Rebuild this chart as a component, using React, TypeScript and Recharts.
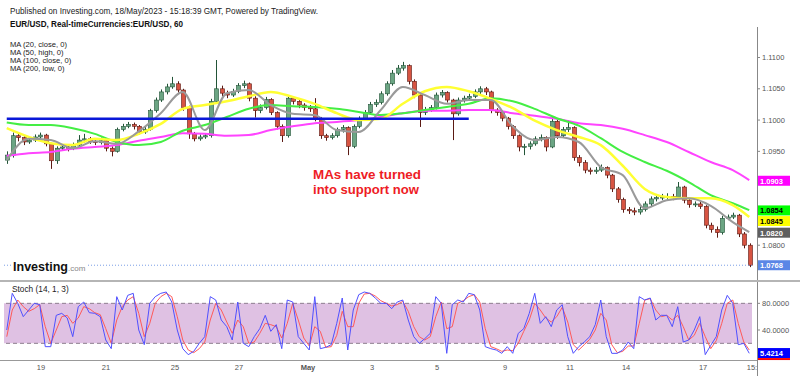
import React from 'react';
import { ComposedChart, Bar, Line, XAxis, YAxis, ReferenceLine, ReferenceArea } from 'recharts';

const firstOpen = 1.0936;
const closes = [
  1.0944, 1.0975, 1.0972, 1.0965, 1.0968, 1.0973, 1.0976, 1.0962, 1.0935, 1.0955,
  1.0957, 1.0955, 1.096, 1.0968, 1.097, 1.0966, 1.0964, 1.0967, 1.0955, 1.095,
  1.0985, 1.099, 1.0993, 1.099, 1.0981, 1.0985, 1.1015, 1.1032, 1.1045, 1.1053,
  1.1058, 1.1048, 1.102, 1.0978, 1.097, 1.0973, 1.0975, 1.103, 1.105, 1.1043,
  1.104, 1.1046, 1.1055, 1.1058, 1.1035, 1.1015, 1.102, 1.1033, 1.1012, 1.099,
  1.0975, 1.1035, 1.103, 1.1024, 1.102, 1.1018, 1.1002, 1.0975, 1.0972, 1.0975,
  1.0985, 1.0988, 1.0958, 1.099, 1.1002, 1.1012, 1.1025, 1.1028, 1.1042, 1.1058,
  1.1075, 1.1083, 1.1087, 1.1062, 1.104, 1.1012, 1.1016, 1.102, 1.104, 1.1044,
  1.1032, 1.101, 1.1032, 1.1035, 1.1038, 1.1045, 1.105, 1.1045, 1.1016, 1.1012,
  1.1003, 1.099, 1.0975, 1.0957, 1.0958, 1.0962, 1.097, 1.0972, 1.0957, 1.0998,
  1.0975, 1.0985, 1.0988, 1.094, 1.0932, 1.092, 1.0918, 1.092, 1.0924, 1.0912,
  1.089, 1.0873, 1.0857, 1.0855, 1.0853, 1.0857, 1.0866, 1.0874, 1.0876, 1.0877,
  1.0878, 1.0877, 1.0893, 1.0872, 1.0865, 1.0866, 1.0862, 1.0832, 1.0825, 1.082,
  1.0843, 1.0845, 1.0848, 1.0818, 1.08, 1.0768,
];
const highs = [
  1.095, 1.098, 1.0979, 1.0974, 1.0972, 1.0977, 1.098, 1.0978, 1.0964, 1.0958,
  1.0961, 1.096, 1.0964, 1.0976, 1.0978, 1.0973, 1.097, 1.0972, 1.0969, 1.0958,
  1.0988, 1.0994, 1.0997, 1.0996, 1.0992, 1.099, 1.1018, 1.1036, 1.1049, 1.1058,
  1.1069, 1.1062, 1.105, 1.1023, 1.0981, 1.0977, 1.0979, 1.1034, 1.1096, 1.1055,
  1.1047, 1.105, 1.1059, 1.1063, 1.106, 1.1038, 1.1025, 1.1037, 1.1035, 1.1014,
  1.0993, 1.104, 1.1038, 1.1033, 1.1027, 1.1024, 1.1035, 1.1005, 1.0978, 1.0979,
  1.0988, 1.0992, 1.099, 1.0993, 1.1006, 1.1016, 1.1029, 1.1033, 1.1046, 1.1062,
  1.108, 1.1088, 1.1093, 1.1089, 1.1065, 1.1043, 1.1021, 1.1024, 1.1044, 1.1048,
  1.1046, 1.1034, 1.1036, 1.1039, 1.1042, 1.1049, 1.1054, 1.1053, 1.1047, 1.1019,
  1.1014, 1.1005, 1.0992, 1.0977, 1.0962, 1.0966, 1.0974, 1.0977, 1.0974, 1.1005,
  1.1, 1.0989, 1.1, 1.099, 1.0944, 1.0936, 1.0924, 1.0925, 1.0929, 1.0926,
  1.0914, 1.0893, 1.0876, 1.0861, 1.086, 1.0862, 1.087, 1.0878, 1.0881, 1.0882,
  1.0883, 1.0882, 1.0901, 1.0895, 1.0875, 1.087, 1.0869, 1.0864, 1.0836, 1.083,
  1.0847, 1.0849, 1.0852, 1.085, 1.0821, 1.0803,
];
const lows = [
  1.093, 1.094, 1.0966, 1.096, 1.0962, 1.0965, 1.097, 1.0958, 1.0922, 1.093,
  1.0951, 1.095, 1.0952, 1.0957, 1.0964, 1.0962, 1.096, 1.0961, 1.095, 1.0942,
  1.0948, 1.0982, 1.0987, 1.0985, 1.0977, 1.0978, 1.0983, 1.1012, 1.1029, 1.1041,
  1.105, 1.1044, 1.1015, 1.097, 1.0966, 1.0967, 1.097, 1.0972, 1.1027, 1.1038,
  1.1035, 1.1037, 1.1043, 1.1051, 1.103, 1.1004, 1.1011, 1.1017, 1.1008, 1.0985,
  1.0965, 1.0972, 1.1025, 1.1019, 1.1015, 1.1013, 1.0998, 1.097, 1.0967, 1.0969,
  1.0972, 1.098, 1.0944, 1.0955, 1.0987, 1.0999, 1.1009, 1.1021, 1.1025, 1.1039,
  1.1055, 1.1072, 1.1079, 1.1057, 1.1035, 1.0989, 1.1008, 1.1013, 1.1017, 1.1036,
  1.1028, 1.0968, 1.1007, 1.1028, 1.1031, 1.1035, 1.1041, 1.104, 1.1011, 1.1007,
  1.0998, 1.0985, 1.097, 1.095, 1.0944, 1.0953, 1.0959, 1.0966, 1.095, 1.0955,
  1.097, 1.0972, 1.0981, 1.0935, 1.0926, 1.0915, 1.0913, 1.0914, 1.0917, 1.0907,
  1.0885, 1.0868, 1.0852, 1.085, 1.0848, 1.0849, 1.0854, 1.0862, 1.087, 1.0872,
  1.0873, 1.0872, 1.0874, 1.0867, 1.086, 1.0861, 1.0858, 1.0827, 1.082, 1.0812,
  1.0817, 1.084, 1.0842, 1.0813, 1.0795, 1.0765,
];

// moving averages, sampled at these candle indices
const maIdx = [
  0, 4, 8, 12, 16, 20, 24, 28, 32, 36, 40, 44, 48, 52, 56, 60, 64, 68,
  72, 76, 80, 84, 88, 92, 96, 100, 104, 108, 112, 116, 120, 124, 128, 132, 135,
];
const ma20 = [
  1.0936, 1.097, 1.0968, 1.0955, 1.0966, 1.0962, 1.0982, 1.1011, 1.1045, 1.0984,
  1.1043, 1.1048, 1.1024, 1.101, 1.1008, 1.0984, 1.0981, 1.1016, 1.1053, 1.104,
  1.1026, 1.1032, 1.1032, 1.099, 1.0968, 1.0973, 1.0965, 1.0925, 1.0912, 1.0859,
  1.0872, 1.0875, 1.0863, 1.0837, 1.0821,
];
const ma50 = [
  1.0987, 1.0973, 1.0963, 1.096, 1.097, 1.0968, 1.0978, 1.0994, 1.1018, 1.1024,
  1.103, 1.1038, 1.1045, 1.1037, 1.1026, 1.1011, 1.1, 1.1002, 1.1026, 1.1046,
  1.1053, 1.1046, 1.1034, 1.1019, 1.0999, 1.0984, 1.0973, 1.096, 1.0927, 1.089,
  1.0877, 1.0875, 1.0875, 1.0864, 1.0845,
];
const ma100 = [
  1.0996, 1.0992, 1.0992, 1.0987, 1.0978, 1.0965, 1.096, 1.0965, 1.0983, 1.0992,
  1.1005, 1.1018, 1.1024, 1.1022, 1.1021, 1.1018, 1.1013, 1.1008, 1.1011, 1.1016,
  1.1021, 1.1026, 1.1035, 1.103, 1.1018, 1.1003, 1.0991, 1.0971, 1.0949, 1.0933,
  1.0919, 1.0901, 1.088, 1.0867, 1.0856,
];
const ma200 = [
  1.0943, 1.0947, 1.0949, 1.0954, 1.0957, 1.096, 1.0967, 1.0973, 1.0979, 1.0978,
  1.0975, 1.0976, 1.0984, 1.099, 1.0995, 1.0997, 1.1, 1.1005, 1.1011, 1.1015,
  1.1015, 1.1016, 1.1016, 1.1011, 1.1007, 1.1002, 1.0995, 1.0992, 1.0986, 1.0976,
  1.0965, 1.0949, 1.0933, 1.092, 1.0904,
];

// Stoch (14, 1, 3)
const stochK = [
  40, 95, 80, 60, 70, 80, 78, 15, 15, 62,
  65, 58, 30, 75, 82, 66, 65, 60, 25, 12,
  90, 70, 92, 95, 40, 18, 80, 90, 95, 97,
  82, 40, 12, 3, 8, 20, 30, 90, 85, 55,
  45, 25, 82, 20, 15, 30, 42, 62, 38, 48,
  12, 85, 82, 30, 20, 10, 90, 12, 14, 18,
  50, 88, 10, 70, 93, 97, 95, 88, 80, 80,
  72, 82, 85, 55, 30, 20, 27, 35, 90, 80,
  5, 78, 85, 82, 95, 93, 70, 15, 12, 10,
  5, 15, 5, 35, 42, 65, 95, 50, 60, 45,
  70, 78, 30, 5, 15, 22, 30, 48, 85, 30,
  5, 5, 10, 22, 12, 90, 85, 88, 55, 62,
  62, 45, 75, 22, 25, 40, 60, 3, 17, 30,
  70, 92, 80, 18, 20, 5,
];
const stochD = [
  30, 70, 85, 75, 68, 72, 78, 45, 20, 40,
  60, 62, 50, 58, 75, 72, 66, 63, 42, 20,
  55, 75, 85, 90, 65, 30, 50, 80, 90, 95,
  90, 60, 25, 10, 6, 12, 22, 55, 80, 70,
  52, 35, 55, 45, 20, 22, 35, 50, 48, 45,
  28, 50, 80, 55, 28, 16, 45, 38, 14, 15,
  32, 68, 45, 45, 80, 94, 95, 91, 84, 80,
  76, 78, 83, 68, 45, 30, 25, 30, 60, 82,
  42, 45, 80, 84, 90, 93, 82, 42, 15, 12,
  8, 10, 9, 20, 38, 55, 80, 70, 58, 52,
  60, 74, 52, 18, 10, 18, 26, 40, 65, 55,
  18, 6, 8, 16, 16, 50, 85, 87, 70, 60,
  62, 55, 62, 45, 25, 32, 50, 30, 12, 24,
  50, 80, 85, 50, 22, 10,
];
const stochLast = 5.4214;

// time axis (positions in candle units)
const dayTicks = [6.73, 18.55, 31.09, 42.73, 55.27, 66.91, 78.73, 91.09, 102.9, 113.1, 127.1, 136];
const dayLabels = ['19', '21', '25', '27', 'May', '3', '5', '9', '11', '14', '17', '15:'];

const priceTicks = [1.075, 1.08, 1.095, 1.1, 1.105, 1.11];
const stochTicks = [40, 80];
const supportLevel = 1.1002;
const supportEnd = 84;
const lastPrice = 1.0768;
const maLast = [1.0903, 1.0854, 1.0845, 1.082];

const FONT = '"Liberation Sans", Arial, sans-serif';
const N = closes.length;

const candles: any[] = closes.map((c, i) => ({
  i,
  open: i === 0 ? firstOpen : closes[i - 1],
  close: c,
  high: highs[i],
  low: lows[i],
  range: [lows[i], highs[i]],
}));
maIdx.forEach((idx, k) => {
  Object.assign(candles[idx], { ma20: ma20[k], ma50: ma50[k], ma100: ma100[k], ma200: ma200[k] });
});

const stochRows = stochK.map((k, i) => ({ x: i + 0.5, k, d: stochD[i] }));

const Candle = (props: any) => {
  const { x, y, width, height, payload } = props;
  if (!payload || x == null) return null;
  const { open, close, high, low } = payload;
  const top = Math.min(y, y + height);
  const h = Math.abs(height);
  const k = high > low ? h / (high - low) : 0;
  const py = (v: number) => top + (high - v) * k;
  const up = close >= open;
  const cx = Math.round(x + width / 2) + 0.5;
  const bTop = py(Math.max(open, close));
  const bH = Math.max(1, py(Math.min(open, close)) - bTop);
  const edge = up ? '#225437' : '#5b1a13';
  return (
    <g>
      <line x1={cx} x2={cx} y1={top} y2={top + h} stroke={edge} strokeWidth={1} />
      <rect x={cx - width / 2} y={bTop} width={width} height={bH} fill={up ? '#6ba583' : '#d75442'} stroke={edge} strokeWidth={0.6} />
    </g>
  );
};

const ValueBox = (props: any) => {
  const { viewBox, text, bg, fg, under, dy = 0 } = props;
  if (!viewBox) return null;
  const left = viewBox.x + viewBox.width + 5;
  const yy = viewBox.y + dy;
  return (
    <g>
      <rect x={left} y={yy - 5} width={33} height={10} fill={bg} />
      {under && <rect x={left} y={yy + 5} width={33} height={2} fill={under} />}
      <text x={left + 3} y={yy + 3} fill={fg} fontSize={7.5} fontWeight="bold" fontFamily={FONT}>
        {text}
      </text>
    </g>
  );
};

const PriceTick = (props: any) => {
  const { y, payload } = props;
  return (
    <g>
      <line x1={757} x2={760} y1={y} y2={y} stroke="#888" />
      <text x={762} y={y + 2.7} fontSize={7.5} fill="#555" fontFamily={FONT}>
        {Number(payload.value).toFixed(4)}
      </text>
    </g>
  );
};

// stoch chart starts at y=283, labels sit at y≈370 on the page
const DayTick = (props: any) => {
  const { x, payload } = props;
  const label = dayLabels[dayTicks.indexOf(payload.value)];
  return (
    <text x={x} y={87} textAnchor="middle" fontSize={7.5} fill="#555" fontFamily={FONT} fontWeight={label === 'May' ? 'bold' : 'normal'}>
      {label}
    </text>
  );
};

const maBoxes = [
  { bg: '#ff00ff', fg: '#fff', dy: 0 },
  { bg: '#00ff00', fg: '#000', dy: -1 },
  { bg: '#ffff00', fg: '#000', dy: 4 },
  { bg: '#5f5f5f', fg: '#fff', dy: 0 },
];

export default function App() {
  return (
    <div style={{ position: 'absolute', left: 0, top: 0, width: 800, height: 376, background: '#fff', overflow: 'hidden' }}>
      <div style={{ position: 'absolute', left: 0, top: 0 }}>
        <ComposedChart width={800} height={281} data={candles} margin={{ top: 0, right: 0, bottom: 0, left: 4 }}>
          <XAxis dataKey="i" hide />
          <YAxis
            orientation="right"
            width={48}
            domain={[1.07428, 1.11919]}
            allowDataOverflow
            ticks={priceTicks}
            tick={PriceTick}
            axisLine={false}
            tickLine={false}
          />
          <ReferenceLine y={lastPrice} stroke="#7a9fe6" strokeDasharray="1 2" />
          <Bar dataKey="range" barSize={4} shape={Candle} isAnimationActive={false} />
          <Line dataKey="ma200" type="monotone" stroke="#ff44ff" strokeWidth={2} dot={false} connectNulls isAnimationActive={false} />
          <Line dataKey="ma100" type="monotone" stroke="#44ee44" strokeWidth={2} dot={false} connectNulls isAnimationActive={false} />
          <Line dataKey="ma50" type="monotone" stroke="#ffff33" strokeWidth={2.5} dot={false} connectNulls isAnimationActive={false} />
          <Line dataKey="ma20" type="monotone" stroke="#9a9a9a" strokeWidth={2} dot={false} connectNulls isAnimationActive={false} />
          <ReferenceLine
            segment={[{ x: 0, y: supportLevel }, { x: supportEnd, y: supportLevel }]}
            stroke="#0a18d8"
            strokeWidth={2.5}
          />
          {maLast.map((v, k) => (
            <ReferenceLine
              key={v}
              y={v}
              stroke="transparent"
              label={<ValueBox text={v.toFixed(4)} bg={maBoxes[k].bg} fg={maBoxes[k].fg} dy={maBoxes[k].dy} />}
            />
          ))}
          <ReferenceLine y={lastPrice} stroke="transparent" label={<ValueBox text={lastPrice.toFixed(4)} bg="#5a86e6" fg="#fff" />} />
        </ComposedChart>
      </div>
      <div style={{ position: 'absolute', left: 0, top: 283 }}>
        <ComposedChart width={800} height={93} data={stochRows} margin={{ top: 0, right: 0, bottom: 0, left: 4 }}>
          <XAxis
            type="number"
            dataKey="x"
            domain={[0, N]}
            allowDataOverflow
            ticks={dayTicks}
            interval={0}
            tick={DayTick}
            axisLine={false}
            tickLine={false}
            height={16}
          />
          <YAxis
            orientation="right"
            width={48}
            domain={[-5, 110.5]}
            allowDataOverflow
            ticks={stochTicks}
            tick={PriceTick}
            axisLine={false}
            tickLine={false}
          />
          <ReferenceArea y1={20} y2={80} fill="#dfc1e3" fillOpacity={1} stroke="none" />
          <ReferenceLine y={80} stroke="#8d7d8f" strokeDasharray="4 3" />
          <ReferenceLine y={20} stroke="#8d7d8f" strokeDasharray="4 3" />
          <Line dataKey="d" type="linear" stroke="#ff5a5a" strokeWidth={1} dot={false} isAnimationActive={false} />
          <Line dataKey="k" type="linear" stroke="#5050ff" strokeWidth={1} dot={false} isAnimationActive={false} />
          <ReferenceLine y={stochLast} stroke="transparent" label={<ValueBox text={stochLast.toFixed(4)} bg="#0000ff" fg="#fff" under="#ff0000" />} />
        </ComposedChart>
      </div>
      <svg width={800} height={376} style={{ position: 'absolute', left: 0, top: 0, pointerEvents: 'none' }}>
        <line x1={757.5} x2={757.5} y1={27} y2={376} stroke="#888" />
        <line x1={0} x2={800} y1={281} y2={281} stroke="#b5b5b5" strokeWidth={2} />
        <line x1={0} x2={757} y1={360.5} y2={360.5} stroke="#999" />
        <text x={10} y={14} fontSize={8.5} fill="#222" fontFamily={FONT} textLength={308} lengthAdjust="spacingAndGlyphs">
          Published on Investing.com, 18/May/2023 - 15:18:39 GMT, Powered by TradingView.
        </text>
        <text x={10} y={27} fontSize={8.5} fontWeight="bold" fill="#111" fontFamily={FONT} textLength={173} lengthAdjust="spacingAndGlyphs">
          EUR/USD, Real-timeCurrencies:EUR/USD, 60
        </text>
        <g fontSize={7.6} fill="#222" fontFamily={FONT}>
          <text x={10} y={47}>MA (20, close, 0)</text>
          <text x={10} y={55}>MA (50, high, 0)</text>
          <text x={10} y={63}>MA (100, close, 0)</text>
          <text x={10} y={71}>MA (200, low, 0)</text>
        </g>
        <g fontSize={13.5} fontWeight="bold" fill="#ee1c25" fontFamily={FONT}>
          <text x={313} y={179} textLength={108} lengthAdjust="spacingAndGlyphs">MAs have turned</text>
          <text x={313} y={194} textLength={106} lengthAdjust="spacingAndGlyphs">into support now</text>
        </g>
        <rect x={12} y={259} width={76} height={15} fill="#fff" />
        <text x={13} y={271} fontSize={12.5} fontWeight="bold" fill="#111" fontFamily={FONT} textLength={55} lengthAdjust="spacingAndGlyphs">
          Investing
        </text>
        <text x={68} y={271} fontSize={8} fill="#888" fontFamily={FONT}>.com</text>
        <text x={12} y={292} fontSize={8.3} fill="#222" fontFamily={FONT}>Stoch (14, 1, 3)</text>
      </svg>
    </div>
  );
}
